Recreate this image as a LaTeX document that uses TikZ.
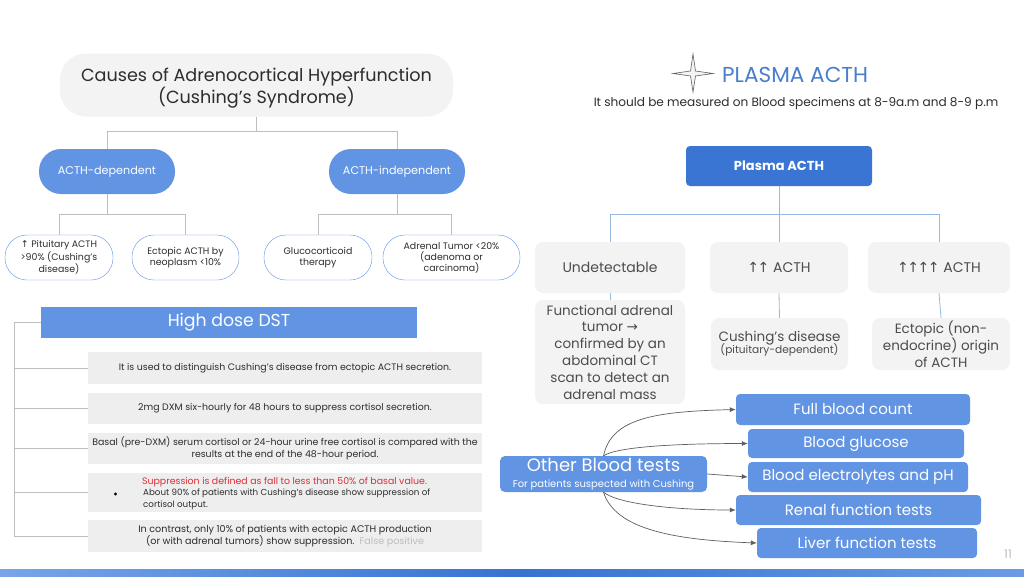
\documentclass[tikz,border=0pt]{standalone}
\usepackage{fontspec}
\setmainfont{Poppins}
\newfontfamily\arrowfont{DejaVu Sans}
\usetikzlibrary{arrows.meta}
\definecolor{txt}{RGB}{45,45,45}
\definecolor{pillblue}{RGB}{98,148,228}
\definecolor{darkblue}{RGB}{58,117,212}
\definecolor{barblue}{RGB}{55,115,210}
\definecolor{barlight}{RGB}{120,165,232}
\definecolor{boxgray}{RGB}{238,238,238}
\definecolor{lightgray}{RGB}{243,243,243}
\definecolor{linegray}{RGB}{190,190,190}
\definecolor{lineblue}{RGB}{150,185,225}
\definecolor{titleblue}{RGB}{72,126,204}
\definecolor{alertred}{RGB}{222,45,55}
\definecolor{arrowgray}{RGB}{95,95,95}
\newcommand{\fs}[1]{\fontsize{#1}{1.2\dimexpr#1pt\relax}\selectfont}
\tikzset{
  pill/.style={fill=pillblue, text=white, rounded corners=22pt, inner sep=0pt,
    minimum height=45pt, align=center},
  leaf/.style={draw=pillblue, fill=white, rounded corners=22pt, inner sep=0pt,
    minimum height=45pt, align=center, font=\fontsize{9.4}{11}\selectfont},
  graybox/.style={fill=lightgray, rounded corners=8pt, inner sep=0pt, align=center,
    text=txt!85!white},
  dstbox/.style={fill=boxgray, inner sep=0pt, minimum width=394pt, align=center,
    font=\fontsize{9.4}{11.5}\selectfont},
  testbox/.style={fill=pillblue, text=white, rounded corners=4pt, inner sep=0pt,
    font=\fs{15}},
  tree/.style={draw=linegray, line width=0.8pt},
  ptree/.style={draw=lineblue, line width=0.8pt},
  link/.style={draw=arrowgray, line width=0.7pt, -{Latex[length=6pt,width=5pt]}}
}
\begin{document}
\begin{tikzpicture}[x=1pt, y=-1pt, every node/.style={text=txt}]
  \useasboundingbox[fill=white] (0,0) rectangle (1024,576);

  % causes tree
  \node[fill=lightgray, rounded corners=26pt, minimum width=393pt, minimum height=63pt,
    inner sep=0pt, align=center, font=\fontsize{17.6}{21}\selectfont] (causes) at (256.5,85)
    {\rule{0pt}{19pt}Causes of Adrenocortical Hyperfunction\\(Cushing’s Syndrome)};
  \node[pill, minimum width=136pt, font=\fs{11.2}] (dep) at (107,171.5) {ACTH-dependent};
  \node[pill, minimum width=136pt, font=\fs{11.2}] (indep) at (397,171.5) {ACTH-independent};
  \node[leaf, minimum width=108pt] (pit) at (59,257.5)
    {{\arrowfont ↑} Pituitary ACTH\\>90\% (Cushing’s\\disease)};
  \node[leaf, minimum width=107pt] (ecto) at (185.5,257.5) {Ectopic ACTH by\\neoplasm <10\%};
  \node[leaf, minimum width=108pt] (gluco) at (318,257.5) {Glucocorticoid\\therapy};
  \node[leaf, minimum width=137pt] (tumor) at (451.5,257.5)
    {Adrenal Tumor <20\%\\(adenoma or\\carcinoma)};
  \draw[tree] (causes.south) -- ++(0,15) -| (dep.north);
  \draw[tree] (causes.south) -- ++(0,15) -| (indep.north);
  \draw[tree] (dep.south) -- ++(0,20) -| (pit.north);
  \draw[tree] (dep.south) -- ++(0,20) -| (ecto.north);
  \draw[tree] (indep.south) -- ++(0,20) -| (gluco.north);
  \draw[tree] (indep.south) -- ++(0,20) -| (tumor.north);

  % plasma acth heading
  \draw[draw=arrowgray, fill=lightgray, line width=0.6pt] (693,54) -- (695.5,71) -- (713,73.5)
    -- (695.5,76) -- (693,92) -- (690.5,76) -- (673,73.5) -- (690.5,71) -- cycle;
  \node[anchor=west, text=titleblue, font=\fs{21.6}, inner sep=0pt] (phead) at (722,75) {PLASMA ACTH};
  \node[font=\fs{12.1}, inner sep=0pt] (pnote) at (796,103)
    {It should be measured on Blood specimens at 8-9a.m and 8-9 p.m};

  % plasma acth tree
  \node[fill=darkblue, rounded corners=4pt, minimum width=186pt, minimum height=40pt,
    inner sep=0pt, text=white, font=\fs{13}\bfseries] (pacth) at (779,166) {Plasma ACTH};
  \node[graybox, minimum width=150pt, minimum height=51pt, font=\fs{14}] (undet) at (610,267.5)
    {Undetectable};
  \node[graybox, minimum width=138pt, minimum height=51pt, font=\fs{14}] (two) at (779,267.5)
    {{\arrowfont ↑\kern-1.5pt↑} ACTH};
  \node[graybox, minimum width=142pt, minimum height=51pt, font=\fs{14}] (four) at (939,267.5)
    {{\arrowfont ↑\kern-1.5pt↑\kern-1.5pt↑\kern-1.5pt↑} ACTH};
  \node[graybox, minimum width=150pt, minimum height=104pt, font=\fontsize{13.5}{16.8}\selectfont]
    (func) at (610,352)
    {Functional adrenal\\tumor {\arrowfont →}\\confirmed by an\\abdominal CT\\scan to detect an\\adrenal mass};
  \node[graybox, minimum width=137pt, minimum height=52pt, font=\fontsize{13.5}{15}\selectfont]
    (cush) at (779.5,344)
    {Cushing’s disease\\[-3pt]{\fontsize{10.6}{12}\selectfont (pituitary-dependent)}};
  \node[graybox, minimum width=138pt, minimum height=52pt, font=\fontsize{13.5}{16.8}\selectfont]
    (ectop) at (941,344)
    {Ectopic (non-\\endocrine) origin\\of ACTH};
  \draw[ptree] (pacth.south) -- ++(0,28) -| (undet.north);
  \draw[ptree] (pacth.south) -- ++(0,28) -| (four.north);
  \draw[ptree] (pacth.south) -- (two.north);
  \draw[ptree] (undet.south) -- (func.north);
  \draw[ptree] (two.south) -- (cush.north);
  \draw[ptree] (four.south) -- (ectop.north);

  % high dose dst
  \node[fill=pillblue, minimum width=376pt, minimum height=31pt, inner sep=0pt, text=white,
    font=\fs{17.3}] (dst) at (229,322.5) {High dose DST};
  \node[dstbox, minimum height=32pt] (use) at (285,368)
    {It is used to distinguish Cushing’s disease from ectopic ACTH secretion.};
  \node[dstbox, minimum height=31pt] (dose) at (285,408.5)
    {2mg DXM six-hourly for 48 hours to suppress cortisol secretion.};
  \node[dstbox, minimum height=31pt] (basal) at (285,448.5)
    {Basal (pre-DXM) serum cortisol or 24-hour urine free cortisol is compared with the\\
     results at the end of the 48-hour period.};
  \node[dstbox, minimum height=39pt] (supp) at (285,492.5) {};
  \node[font=\fontsize{9.4}{11}\selectfont, text=alertred, inner sep=0pt] (red) at (284.5,482)
    {Suppression is defined as fall to less than 50\% of basal value.};
  \node[font=\fontsize{8.7}{11.5}\selectfont, anchor=north west, inner sep=0pt, align=left]
    (about) at (143,489)
    {About 90\% of patients with Cushing’s disease show suppression of\\cortisol output.};
  \fill[black] (115.5,494) circle (1.6pt);
  \node[dstbox, minimum height=32pt, font=\fontsize{9.6}{11.5}\selectfont] (contra) at (285,536)
    {In contrast, only 10\% of patients with ectopic ACTH production\\
     (or with adrenal tumors) show suppression.\ \ \textcolor{linegray}{False positive}};
  \draw[tree] (dst.west) -- ++(-26,0) |- (use.west);
  \draw[tree] (dst.west) -- ++(-26,0) |- (dose.west);
  \draw[tree] (dst.west) -- ++(-26,0) |- (basal.west);
  \draw[tree] (dst.west) -- ++(-26,0) |- (supp.west);
  \draw[tree] (dst.west) -- ++(-26,0) |- (contra.west);

  % other blood tests
  \node[fill=pillblue, rounded corners=5pt, minimum width=207pt, minimum height=36pt,
    inner sep=0pt, align=center, text=white, font=\fontsize{18}{16}\selectfont] (other) at (603.5,474)
    {Other Blood tests\\{\fontsize{10}{12}\selectfont For patients suspected with Cushing}};
  \node[testbox, minimum width=234pt, minimum height=31pt] (fbc) at (853,409.5) {Full blood count};
  \node[testbox, minimum width=216pt, minimum height=29pt] (gluc) at (856,443.5) {Blood glucose};
  \node[testbox, minimum width=220pt, minimum height=30pt] (elec) at (858,477) {Blood electrolytes and pH};
  \node[testbox, minimum width=245pt, minimum height=30pt] (renal) at (858.5,510) {Renal function tests};
  \node[testbox, minimum width=220pt, minimum height=30pt] (liver) at (867,543) {Liver function tests};
  \draw[link] (other.north) .. controls +(8,-38) and +(-80,2) .. (fbc.west);
  \draw[link] (other.north) .. controls +(15,-10) and +(-60,0) .. (gluc.west);
  \draw[link] (other.east) -- (elec.west);
  \draw[link] (other.south) .. controls +(15,12) and +(-60,0) .. (renal.west);
  \draw[link] (other.south) .. controls +(12,38) and +(-80,-3) .. (liver.west);

  % footer
  \node[text=linegray, font=\fs{12}, inner sep=0pt] (page) at (1008,554) {11};
  \shade[left color=barlight, right color=barblue] (0,569) rectangle (520,576);
  \shade[left color=barblue, right color=barlight!80!barblue] (520,569) rectangle (1024,576);
\end{tikzpicture}
\end{document}
